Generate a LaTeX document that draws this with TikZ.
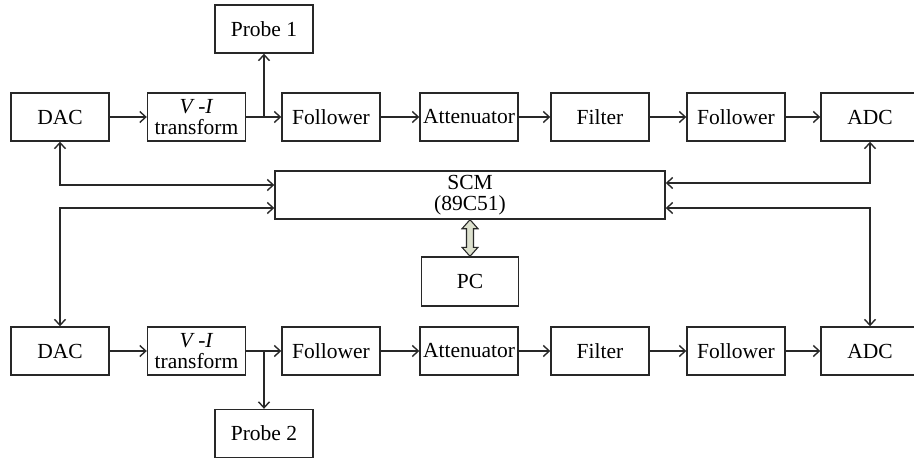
\documentclass[tikz,border=0pt]{standalone}
\usepackage{fontspec}
\setmainfont{Liberation Serif}
\usetikzlibrary{arrows.meta,calc}
\definecolor{arrowfill}{RGB}{220,224,205}
\definecolor{linec}{RGB}{40,40,40}
\begin{document}
\begin{tikzpicture}[x=1pt,y=-1pt,
  box/.style={draw=linec,line width=1.4pt,minimum width=98pt,minimum height=48pt,inner sep=0pt,
    font=\fontsize{21.5}{20.5}\selectfont,align=center},
  conn/.style={draw=linec,line width=1.4pt},
  arr/.style={conn,-{Straight Barb[length=6pt,width=11pt,line width=1.4pt]}},
  biarr/.style={conn,{Straight Barb[length=6pt,width=11pt,line width=1.4pt]}-{Straight Barb[length=6pt,width=11pt,line width=1.4pt]}}]
\useasboundingbox (0,0) rectangle (914,460);
% top row
\node[box] (dac1) at (60,117) {DAC};
\node[box] (vi1) at (196.5,117) {\textit{V}\,-\textit{I}\\transform};
\node[box] (p1) at (264,29) {Probe 1};
\node[box] (fa1) at (331,117) {Follower};
\node[box] (at1) at (469,117) {Attenuator};
\node[box] (fi1) at (600,117) {Filter};
\node[box] (fb1) at (736,117) {Follower};
\node[box] (adc1) at (870,117) {ADC};
% middle
\node[box,minimum width=390pt] (scm) at (470,195) {SCM\\(89C51)};
\node[box,minimum width=97pt,minimum height=49pt] (pc) at (470,281.5) {PC};
% bottom row
\node[box] (dac2) at (60,351) {DAC};
\node[box] (vi2) at (196.5,351) {\textit{V}\,-\textit{I}\\transform};
\node[box] (p2) at (264,433.5) {Probe 2};
\node[box] (fa2) at (331,351) {Follower};
\node[box] (at2) at (469,351) {Attenuator};
\node[box] (fi2) at (600,351) {Filter};
\node[box] (fb2) at (736,351) {Follower};
\node[box] (adc2) at (870,351) {ADC};
% junctions
\coordinate (j1) at (264,117);
\coordinate (j2) at (264,351);
% top chain
\draw[arr] (dac1) -- (vi1);
\draw[conn] (vi1) -- (j1);
\draw[arr] (j1) -- (fa1);
\draw[arr] (j1) -- (p1.south);
\draw[arr] (fa1) -- (at1);
\draw[arr] (at1) -- (fi1);
\draw[arr] (fi1) -- (fb1);
\draw[arr] (fb1) -- (adc1);
% bottom chain
\draw[arr] (dac2) -- (vi2);
\draw[conn] (vi2) -- (j2);
\draw[arr] (j2) -- (fa2);
\draw[arr] (j2) -- (p2.north);
\draw[arr] (fa2) -- (at2);
\draw[arr] (at2) -- (fi2);
\draw[arr] (fi2) -- (fb2);
\draw[arr] (fb2) -- (adc2);
% SCM links
\draw[biarr] (dac1.south) |- ([yshift=10pt]scm.west);
\draw[biarr] ([yshift=-13pt]scm.west) -| (dac2.north);
\draw[biarr] (adc1.south) |- ([yshift=12pt]scm.east);
\draw[biarr] ([yshift=-13pt]scm.east) -| (adc2.north);
% fat double arrow SCM <-> PC
\draw[draw=linec,line width=1.1pt,fill=arrowfill,line join=miter]
  (scm.south) -- ($(scm.south)+(8,9)$) -- ($(scm.south)+(3.5,9)$)
  -- ($(pc.north)+(3.5,-9)$) -- ($(pc.north)+(8,-9)$) -- (pc.north)
  -- ($(pc.north)+(-8,-9)$) -- ($(pc.north)+(-3.5,-9)$)
  -- ($(scm.south)+(-3.5,9)$) -- ($(scm.south)+(-8,9)$) -- cycle;
\end{tikzpicture}
\end{document}
